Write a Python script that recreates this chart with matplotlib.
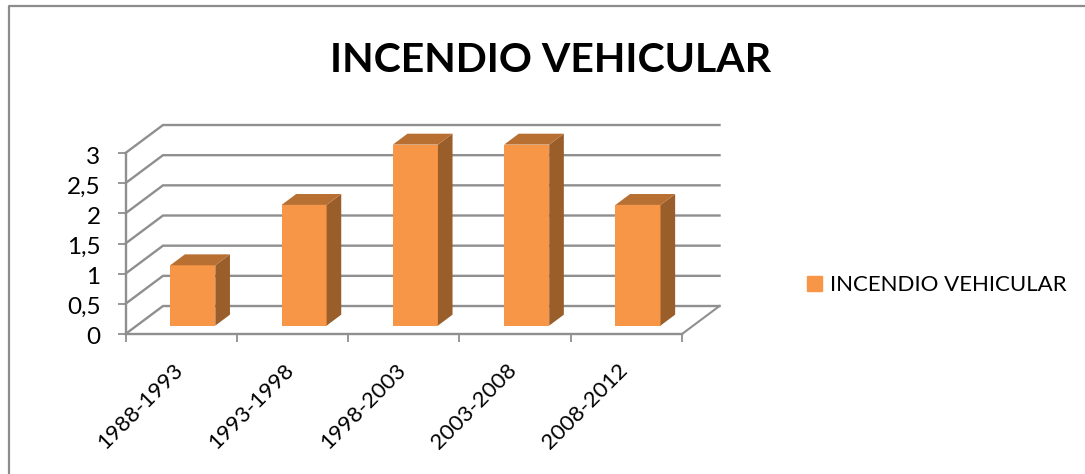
import matplotlib
matplotlib.use("Agg")
import matplotlib.pyplot as plt
from matplotlib.patches import Polygon, Patch
from matplotlib.lines import Line2D
from matplotlib.transforms import ScaledTranslation

categories = ["1988-1993", "1993-1998", "1998-2003", "2003-2008", "2008-2012"]
values = [1, 2, 3, 3, 2]
y_ticks = [0, 0.5, 1, 1.5, 2, 2.5, 3]
y_labels = ["0", "0,5", "1", "1,5", "2", "2,5", "3"]
title = "INCENDIO VEHICULAR"
series_name = "INCENDIO VEHICULAR"

W, H = 1085, 474
FONT = "Lato"
GRID = "#8f8f8f"
FRONT, TOP, SIDE = "#F79646", "#B86F32", "#9A5E2A"

plt.rcParams["font.family"] = [FONT, "DejaVu Sans"]
fig = plt.figure(figsize=(W / 100, H / 100), dpi=100)
ax = fig.add_axes([125.5 / W, 1 - 334 / H, (682 - 125.5) / W, (334 - 153) / H])
ax.set_xlim(0, len(categories))
ax.set_ylim(0, 3)
ax.patch.set_alpha(0)

# oblique projection, in data units
DX, DY = 0.337, 0.464
BAR_W, BAR_FRONT, BAR_DEPTH = 0.405, 0.31, 0.39

n = len(categories)
for v in y_ticks:
    ax.plot([0, DX, n + DX], [v, v + DY, v + DY], color=GRID, lw=1.7,
            clip_on=False, zorder=1, solid_joinstyle="miter")
ax.plot([n, n + DX], [0, DY], color=GRID, lw=1.5, clip_on=False, zorder=1)

for i, v in enumerate(values):
    x0 = i + 0.5 - BAR_W / 2 + BAR_FRONT * DX
    x1 = x0 + BAR_W
    y0 = 0.30 * DY
    y1 = y0 + v
    ddx, ddy = BAR_DEPTH * DX, BAR_DEPTH * DY
    ax.bar(x0, v, width=BAR_W, bottom=y0, align="edge", color=FRONT, zorder=3, clip_on=False)
    ax.add_patch(Polygon([(x1, y0), (x1 + ddx, y0 + ddy), (x1 + ddx, y1 + ddy), (x1, y1)],
                         closed=True, color=SIDE, lw=0, zorder=3, clip_on=False))
    ax.add_patch(Polygon([(x0, y1), (x1, y1), (x1 + ddx, y1 + ddy), (x0 + ddx, y1 + ddy)],
                         closed=True, color=TOP, lw=0, zorder=3, clip_on=False))

for s in ("top", "right"):
    ax.spines[s].set_visible(False)
for s in ("left", "bottom"):
    ax.spines[s].set_color(GRID)
    ax.spines[s].set_linewidth(1.7)

ax.set_yticks(y_ticks, y_labels, fontsize=17.5)
ax.set_xticks(range(n + 1))
ax.set_xticklabels([])
ax.tick_params(axis="both", color=GRID, width=1.3, length=6)
ax.tick_params(axis="y", pad=12)
shift = ScaledTranslation(0, -2 / 100, fig.dpi_scale_trans)
for lab in ax.get_yticklabels():
    lab.set_transform(lab.get_transform() + shift)

for i, lab in enumerate(categories):
    ax.annotate(lab, xy=(i + 0.5, 0), xycoords="data", xytext=(-1, -24),
                textcoords="offset points", rotation=45, rotation_mode="anchor",
                ha="right", va="center", fontsize=16, color="black", annotation_clip=False)

fig.text(551 / W, 1 - 60 / H, title, fontsize=29.5, fontweight="bold", ha="center", va="center")

fig.legend(handles=[Patch(color=FRONT, label=series_name)], loc="center left",
           bbox_to_anchor=(798 / W, 1 - 285 / H), frameon=False, fontsize=16,
           handlelength=0.68, handleheight=0.68, handletextpad=0.36, borderaxespad=0, borderpad=0.4)

fig.add_artist(Line2D([8.5 / W, 8.5 / W, 1], [0, 1 - 6 / H, 1 - 6 / H], color="#8c8c8c", lw=1.6,
                      transform=fig.transFigure))
fig.savefig("out.png", dpi=100)
